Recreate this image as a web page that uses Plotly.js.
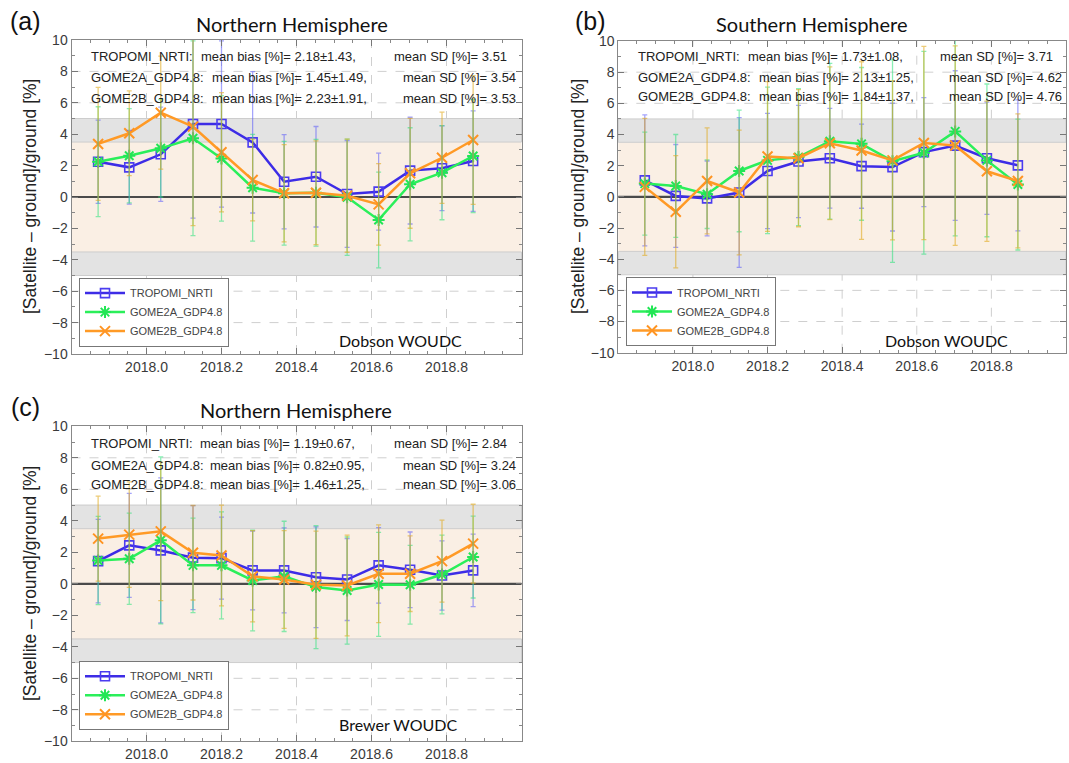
<!DOCTYPE html>
<html>
<head>
<meta charset="utf-8">
<script src="https://cdn.plot.ly/plotly-3.0.1.min.js"></script>
<style>
  html, body { margin: 0; padding: 0; background: #ffffff; }
  #chart { width: 1069px; height: 763px; }
</style>
</head>
<body>
<div id="chart"></div>
<script>
// ---------------- DATA ----------------
const months = [2017.871, 2017.954, 2018.038, 2018.124, 2018.200, 2018.283, 2018.367,
                2018.452, 2018.535, 2018.619, 2018.703, 2018.788, 2018.871];

const seriesNames = ["TROPOMI_NRTI", "GOME2A_GDP4.8", "GOME2B_GDP4.8"];

// (a) Northern Hemisphere, Dobson WOUDC
const nhDobsonTropomi = [2.25, 1.89, 2.72, 4.65, 4.65, 3.48, 0.97, 1.29, 0.19, 0.34, 1.68, 1.83, 2.29];
const nhDobsonGome2a  = [2.25, 2.63, 3.10, 3.74, 2.46, 0.59, 0.24, 0.27, -0.02, -1.46, 0.81, 1.55, 2.61];
const nhDobsonGome2b  = [3.38, 4.06, 5.37, 4.48, 2.85, 1.08, 0.24, 0.27, 0.08, -0.47, 1.51, 2.50, 3.63];
const nhDobsonTropomiSD = [2.65, 2.35, 3.0, 6.0, 5.3, 4.5, 3.0, 3.2, 3.4, 2.45, 3.4, 2.7, 3.2];
const nhDobsonGome2aSD  = [3.5, 3.0, 3.1, 6.2, 4.0, 3.4, 3.3, 3.4, 3.7, 3.05, 3.6, 3.0, 3.6];
const nhDobsonGome2bSD  = [3.6, 2.7, 3.6, 6.3, 3.8, 2.6, 3.1, 3.3, 3.6, 2.6, 3.5, 2.9, 4.1];
const nhDobsonBias = ["2.18±1.43,", "1.45±1.49,", "2.23±1.91,"];
const nhDobsonMeanSD = ["3.51", "3.54", "3.53"];

// (b) Southern Hemisphere, Dobson WOUDC
const shDobsonTropomi = [1.06, 0.06, -0.10, 0.28, 1.66, 2.27, 2.48, 1.97, 1.91, 2.87, 3.29, 2.48, 2.02];
const shDobsonGome2a  = [0.85, 0.70, 0.17, 1.66, 2.34, 2.55, 3.57, 3.40, 2.29, 2.83, 4.20, 2.34, 0.79];
const shDobsonGome2b  = [0.64, -0.96, 1.02, 0.28, 2.59, 2.48, 3.44, 2.97, 2.34, 3.46, 3.29, 1.64, 1.02];
const shDobsonTropomiSD = [4.2, 3.3, 2.4, 4.8, 3.7, 3.6, 3.2, 2.7, 4.1, 3.5, 4.8, 3.6, 4.2];
const shDobsonGome2aSD  = [3.3, 3.3, 2.2, 3.9, 4.7, 4.4, 5.0, 4.9, 6.5, 6.5, 6.7, 4.9, 4.2];
const shDobsonGome2bSD  = [4.4, 3.6, 3.4, 4.0, 4.8, 4.4, 4.9, 5.7, 5.1, 6.2, 6.4, 4.5, 4.3];
const shDobsonBias = ["1.73±1.08,", "2.13±1.25,", "1.84±1.37,"];
const shDobsonMeanSD = ["3.71", "4.62", "4.76"];

// (c) Northern Hemisphere, Brewer WOUDC
const nhBrewerTropomi = [1.44, 2.44, 2.12, 1.66, 1.63, 0.85, 0.85, 0.42, 0.27, 1.17, 0.89, 0.53, 0.85];
const nhBrewerGome2a  = [1.48, 1.59, 2.76, 1.17, 1.17, 0.21, 0.47, -0.21, -0.43, -0.04, -0.06, 0.59, 1.70];
const nhBrewerGome2b  = [2.87, 3.12, 3.33, 1.97, 1.80, 0.48, 0.27, -0.06, -0.11, 0.64, 0.64, 1.44, 2.55];
const nhBrewerTropomiSD = [2.65, 3.3, 4.6, 3.3, 2.6, 2.5, 2.7, 3.2, 2.6, 2.4, 2.4, 2.2, 2.3];
const nhBrewerGome2aSD  = [2.8, 2.9, 5.3, 3.0, 3.4, 3.2, 3.5, 3.9, 3.4, 3.3, 2.5, 2.5, 2.6];
const nhBrewerGome2bSD  = [2.7, 3.35, 4.4, 3.0, 3.2, 2.9, 3.1, 3.4, 3.2, 3.1, 2.4, 2.6, 2.5];
const nhBrewerBias = ["1.19±0.67,", "0.82±0.95,", "1.46±1.25,"];
const nhBrewerMeanSD = ["2.84", "3.24", "3.06"];

const xTickVals = [2018.0, 2018.2, 2018.4, 2018.6, 2018.8];
const xTickLabels = ["2018.0", "2018.2", "2018.4", "2018.6", "2018.8"];
const yTickVals = [-10, -8, -6, -4, -2, 0, 2, 4, 6, 8, 10];

const panelTitles = ["Northern Hemisphere", "Southern Hemisphere", "Northern Hemisphere"];
const panelLetters = ["(a)", "(b)", "(c)"];
const networkLabels = ["Dobson WOUDC", "Dobson WOUDC", "Brewer WOUDC"];
const yTitle = "[Satellite \u2013 ground]/ground [%]";

// ---------------- STYLE / LAYOUT ----------------
const W = 1069, H = 763;
const fx = p => p / W;
const fy = p => 1 - p / H;

const styles = [
  { line: '#3d2ce6', marker: { symbol: 'square-open', size: 9, color: '#4b3cf0', line: { width: 1.6, color: '#4b3cf0' } }, err: 'rgba(90,90,250,0.55)' },
  { line: '#2bef5a', marker: { symbol: 'asterisk-open', size: 10, color: '#22e655', line: { width: 2, color: '#22e655' } }, err: 'rgba(40,225,120,0.55)' },
  { line: '#ff9a26', marker: { symbol: 'x-thin-open', size: 10, color: '#ff9422', line: { width: 2, color: '#ff9422' } }, err: 'rgba(225,170,30,0.6)' }
];

// pixel boxes of the three plot areas [left, right, top, bottom]
const boxes = [
  [71.5, 521.5, 40, 354],
  [618.3, 1066, 41, 352.7],
  [71.5, 521.5, 426.3, 741.3]
];

const panels = [
  { vals: [nhDobsonTropomi, nhDobsonGome2a, nhDobsonGome2b], sds: [nhDobsonTropomiSD, nhDobsonGome2aSD, nhDobsonGome2bSD], bias: nhDobsonBias, msd: nhDobsonMeanSD },
  { vals: [shDobsonTropomi, shDobsonGome2a, shDobsonGome2b], sds: [shDobsonTropomiSD, shDobsonGome2aSD, shDobsonGome2bSD], bias: shDobsonBias, msd: shDobsonMeanSD },
  { vals: [nhBrewerTropomi, nhBrewerGome2a, nhBrewerGome2b], sds: [nhBrewerTropomiSD, nhBrewerGome2aSD, nhBrewerGome2bSD], bias: nhBrewerBias, msd: nhBrewerMeanSD }
];

// text placement per panel (pixels)
const textPos = [
  { y: [56, 78, 98], name: 89, bias: [199, 210, 210], sd: [392, 401, 401], title: [292, 24], letter: [25, 21], net: [400, 340], ytitle: [30, 197] },
  { y: [56, 77.5, 97], name: 636, bias: [746, 757, 757], sd: [938, 947, 947], title: [812, 24], letter: [590, 21], net: [946, 340], ytitle: [578, 197] },
  { y: [443, 465, 484], name: 89, bias: [198, 208, 208], sd: [392, 401, 401], title: [296, 410], letter: [25, 407], net: [398, 724], ytitle: [30, 584] }
];

const legendPos = [[79, 346.6], [626, 346], [79, 729.7]];

const traces = [];
const layout = {
  width: W, height: H,
  margin: { l: 0, r: 0, t: 0, b: 0 },
  paper_bgcolor: '#ffffff', plot_bgcolor: '#ffffff',
  font: { family: 'Liberation Sans, Arial, sans-serif', color: '#333' },
  shapes: [], annotations: []
};

const textFont = { family: 'Liberation Sans, Arial, sans-serif', size: 13, color: '#222' };
const gridLine = { width: 1, color: '#cfcfcf', dash: 'dash' };

panels.forEach((p, i) => {
  const n = i === 0 ? '' : String(i + 1);
  const xa = 'x' + n, ya = 'y' + n;
  const legendId = 'legend' + n;
  const b = boxes[i];

  p.vals.forEach((v, k) => {
    traces.push({
      type: 'scatter', mode: 'lines+markers',
      x: months, y: v, xaxis: xa, yaxis: ya,
      name: seriesNames[k], legend: legendId,
      line: { color: styles[k].line, width: 2.5 },
      marker: styles[k].marker,
      hoverinfo: 'x+y'
    });
  });
  p.vals.forEach((v, k) => {
    traces.push({
      type: 'scatter', mode: 'markers',
      x: months, y: v, xaxis: xa, yaxis: ya,
      showlegend: false, legend: legendId,
      marker: { size: 1, color: 'rgba(0,0,0,0)' },
      error_y: { type: 'data', array: p.sds[k], visible: true, color: styles[k].err, thickness: 1.3, width: 2.5 },
      hoverinfo: 'skip'
    });
  });

  layout['xaxis' + n] = {
    domain: [fx(b[0]), fx(b[1])], anchor: ya,
    range: [2017.8, 2019.0],
    tickmode: 'array', tickvals: xTickVals, ticktext: xTickLabels,
    ticks: 'inside', ticklen: 6, tickcolor: '#777',
    minor: { dtick: 0.05, tick0: 2017.8, ticks: 'inside', ticklen: 3, tickcolor: '#888', showgrid: false },
    showline: true, linecolor: '#888', linewidth: 1, mirror: 'ticks',
    showgrid: false, zeroline: false, automargin: false,
    tickfont: { size: 14, color: '#3a3a3a' }
  };
  layout['yaxis' + n] = {
    domain: [fy(b[3]), fy(b[2])], anchor: xa,
    range: [-10, 10],
    tickmode: 'array', tickvals: yTickVals,
    ticks: 'inside', ticklen: 6, tickcolor: '#777',
    minor: { dtick: 1, tick0: -10, ticks: 'inside', ticklen: 3, tickcolor: '#888', showgrid: false },
    showline: true, linecolor: '#888', linewidth: 1, mirror: 'ticks',
    showgrid: false, zeroline: false, automargin: false,
    tickfont: { size: 14, color: '#3a3a3a' }
  };

  const xd = xa + ' domain', yd = ya + ' domain';
  // dashed grid (drawn first, so the shaded bands cover it)
  xTickVals.forEach(v => layout.shapes.push({ type: 'line', xref: xa, yref: yd, x0: v, x1: v, y0: 0, y1: 1, line: gridLine, layer: 'below' }));
  yTickVals.slice(1, -1).forEach(v => layout.shapes.push({ type: 'line', xref: xd, yref: ya, x0: 0, x1: 1, y0: v, y1: v, line: gridLine, layer: 'below' }));
  layout.shapes.push(
    { type: 'rect', xref: xd, yref: ya, x0: 0, x1: 1, y0: -3.5, y1: 3.5, fillcolor: '#faefe4', line: { width: 0 }, layer: 'below' },
    { type: 'rect', xref: xd, yref: ya, x0: 0, x1: 1, y0: 3.5, y1: 5, fillcolor: '#e3e3e3', line: { width: 1, color: '#cdcdcd' }, layer: 'below' },
    { type: 'rect', xref: xd, yref: ya, x0: 0, x1: 1, y0: -5, y1: -3.5, fillcolor: '#e3e3e3', line: { width: 1, color: '#cdcdcd' }, layer: 'below' },
    { type: 'line', xref: xd, yref: ya, x0: 0, x1: 1, y0: 0, y1: 0, line: { width: 2.2, color: '#4a4a4a' }, layer: 'below' }
  );

  const t = textPos[i];
  seriesNames.forEach((nm, k) => {
    layout.annotations.push(
      { xref: 'paper', yref: 'paper', x: fx(t.name), y: fy(t.y[k]), xanchor: 'left', yanchor: 'middle', showarrow: false, text: nm + ':', font: textFont },
      { xref: 'paper', yref: 'paper', x: fx(t.bias[k]), y: fy(t.y[k]), xanchor: 'left', yanchor: 'middle', showarrow: false, text: 'mean bias [%]= ' + p.bias[k], font: textFont },
      { xref: 'paper', yref: 'paper', x: fx(t.sd[k]), y: fy(t.y[k]), xanchor: 'left', yanchor: 'middle', showarrow: false, text: 'mean SD [%]= ' + p.msd[k], font: textFont }
    );
  });
  layout.annotations.push(
    { xref: 'paper', yref: 'paper', x: fx(t.title[0]), y: fy(t.title[1]), xanchor: 'center', yanchor: 'middle', showarrow: false, text: panelTitles[i], font: { family: 'Lato, Open Sans, sans-serif', size: 20, color: '#111' } },
    { xref: 'paper', yref: 'paper', x: fx(t.letter[0]), y: fy(t.letter[1]), xanchor: 'center', yanchor: 'middle', showarrow: false, text: panelLetters[i], font: { family: 'Liberation Sans, Arial, sans-serif', size: 25, color: '#111' } },
    { xref: 'paper', yref: 'paper', x: fx(t.net[0]), y: fy(t.net[1]), xanchor: 'center', yanchor: 'middle', showarrow: false, text: networkLabels[i], font: { family: 'Lato, Open Sans, sans-serif', size: 16, color: '#111' } },
    { xref: 'paper', yref: 'paper', x: fx(t.ytitle[0]), y: fy(t.ytitle[1]), xanchor: 'center', yanchor: 'middle', showarrow: false, textangle: -90, text: yTitle, font: { family: 'Liberation Sans, Arial, sans-serif', size: 17.5, color: '#222' } }
  );

  layout[legendId] = {
    x: fx(legendPos[i][0]), y: fy(legendPos[i][1]), xanchor: 'left', yanchor: 'bottom',
    xref: 'paper', yref: 'paper',
    bgcolor: '#ffffff', bordercolor: '#777', borderwidth: 1,
    font: { family: 'Liberation Sans, Arial, sans-serif', size: 11, color: '#444' },
    tracegroupgap: 0, itemwidth: 40
  };
});

Plotly.newPlot('chart', traces, layout, { staticPlot: true, displayModeBar: false });
</script>
</body>
</html>
